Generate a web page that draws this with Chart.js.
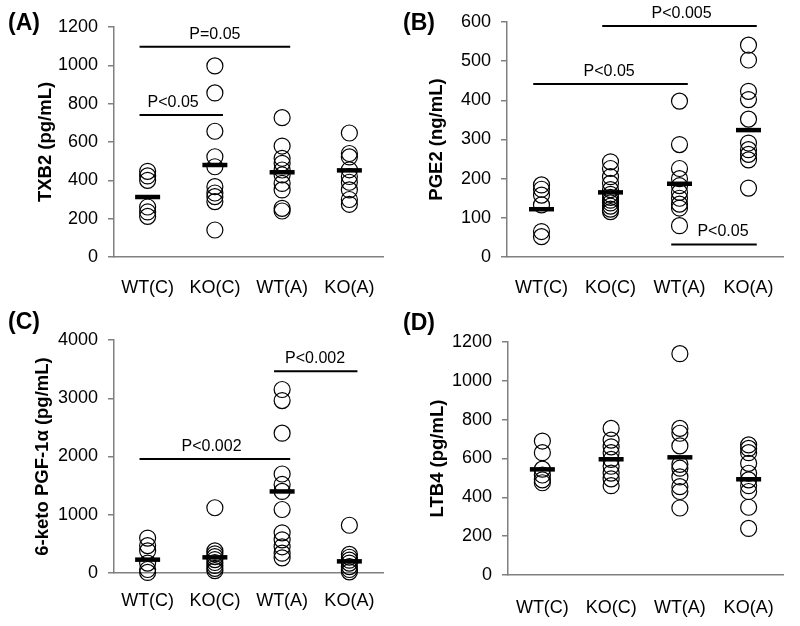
<!DOCTYPE html>
<html>
<head>
<meta charset="utf-8">
<script src="https://cdn.jsdelivr.net/npm/chart.js@4/dist/chart.umd.min.js"></script>
<style>
  html, body { margin: 0; padding: 0; background: #fff; }
  #wrap { position: relative; width: 800px; height: 626px; overflow: hidden; }
  canvas { position: absolute; }
  .lbl { position: absolute; font: bold 23px "Liberation Sans", Arial, sans-serif; line-height: 1; color: #000; }
</style>
</head>
<body>
<div id="wrap">
  <canvas id="cA" width="400" height="300" style="left:0;top:0"></canvas>
  <canvas id="cB" width="400" height="300" style="left:400px;top:0"></canvas>
  <canvas id="cC" width="400" height="326" style="left:0;top:300px"></canvas>
  <canvas id="cD" width="400" height="326" style="left:400px;top:300px"></canvas>
  <div class="lbl" style="left:8px;top:11px">(A)</div>
  <div class="lbl" style="left:403px;top:11px">(B)</div>
  <div class="lbl" style="left:8px;top:310px">(C)</div>
  <div class="lbl" style="left:403px;top:311px">(D)</div>
</div>
<script>
// ---------- data ----------
const categories = ['WT(C)', 'KO(C)', 'WT(A)', 'KO(A)'];

// Panel A: TXB2 (pg/mL)
const txb2_WTC = [447, 423, 400, 261, 235, 212];
const txb2_KOC = [997, 856, 656, 523, 471, 367, 334, 315, 289, 141];
const txb2_WTA = [727, 579, 515, 489, 454, 428, 384, 350, 254, 240];
const txb2_KOA = [647, 540, 522, 455, 420, 390, 350, 300, 275];
const txb2_mean = [313, 480, 442, 452];
const txb2_ticks = [0, 200, 400, 600, 800, 1000, 1200];

// Panel B: PGE2 (ng/mL)
const pge2_WTC = [184, 173, 158, 133, 65, 52];
const pge2_KOC = [243, 226, 205, 188, 172, 160, 152, 145, 138, 130, 122, 116];
const pge2_WTA = [398, 287, 226, 200, 182, 165, 150, 135, 125, 80];
const pge2_KOA = [541, 503, 423, 402, 352, 291, 274, 262, 248, 176];
const pge2_mean = [122, 165, 187, 324];
const pge2_ticks = [0, 100, 200, 300, 400, 500, 600];

// Panel C: 6-keto PGF-1α (pg/mL)
const pgf_WTC = [600, 470, 380, 170, 60, 10];
const pgf_KOC = [1120, 380, 330, 280, 230, 180, 130, 80, 40];
const pgf_WTA = [3150, 2960, 2400, 1700, 1520, 1400, 1090, 690, 570, 450, 340, 260];
const pgf_KOA = [820, 320, 270, 220, 170, 110, 60, 20];
const pgf_mean = [229, 269, 1400, 200];
const pgf_ticks = [0, 1000, 2000, 3000, 4000];

// Panel D: LTB4 (pg/mL)
const ltb4_WTC = [690, 630, 545, 515, 490, 475];
const ltb4_KOC = [755, 695, 660, 630, 595, 560, 525, 495, 460];
const ltb4_WTA = [1140, 755, 730, 665, 570, 550, 505, 455, 430, 345];
const ltb4_KOA = [670, 652, 630, 575, 524, 490, 460, 430, 349, 240];
const ltb4_mean = [544, 596, 606, 493];
const ltb4_ticks = [0, 200, 400, 600, 800, 1000, 1200];

// significance brackets: [fromGroup, toGroup, yValue, label, labelAt(group units)]
const sigA = [[1, 3, 1097, 'P=0.05', 2.0], [1, 2, 741, 'P<0.05', 1.38]];
const sigB = [[2, 4, 590, 'P<0.005', 3.03], [1, 3, 442, 'P<0.05', 1.98], [3, 4, 32, 'P<0.05', 3.63]];
const sigC = [[3, 4, 3465, 'P<0.002', 3.49], [1, 3, 1955, 'P<0.002', 1.95]];
const sigD = [];

// ---------- drawing ----------
const FONT = '"Liberation Sans", Arial, sans-serif';
const GREY = '#808080';

const sigTextPlugin = {
  id: 'sigText',
  afterDatasetsDraw(chart, args, opts) {
    const ctx = chart.ctx, xs = chart.scales.x, ys = chart.scales.y;
    ctx.save();
    ctx.fillStyle = '#000';
    ctx.font = '16px ' + FONT;
    ctx.textAlign = 'center';
    ctx.textBaseline = 'alphabetic';
    (opts.items || []).forEach(s => {
      ctx.fillText(s[3], xs.getPixelForValue(s[4]), ys.getPixelForValue(s[2]) - 8);
    });
    ctx.restore();
  }
};

function makePanel(id, groups, means, yTicks, sig, title, g) {
  const pts = [];
  groups.forEach((arr, i) => arr.forEach(v => pts.push({ x: i + 1, y: v })));
  const datasets = [
    {
      data: means.map((m, i) => ({ x: i + 1, y: m })),
      pointStyle: 'line', pointRadius: 12.5, pointBorderWidth: 4.5,
      pointBorderColor: '#000', borderColor: '#000', showLine: false, clip: false
    },
    {
      data: pts,
      pointStyle: 'circle', pointRadius: 8, pointBorderWidth: 1.2,
      pointBackgroundColor: 'rgba(0,0,0,0)', pointBorderColor: '#000', showLine: false, clip: false
    }
  ];
  sig.forEach(s => {
    datasets.push({
      data: [{ x: s[0] - 0.12, y: s[2] }, { x: s[1] + 0.12, y: s[2] }],
      showLine: true, borderColor: '#000', borderWidth: 2, pointRadius: 0, clip: false
    });
  });
  new Chart(document.getElementById(id), {
    type: 'scatter',
    data: { datasets },
    plugins: [sigTextPlugin],
    options: {
      responsive: false, animation: false, devicePixelRatio: 1,
      layout: { padding: { top: g.top, right: g.right, left: 0, bottom: 0 } },
      plugins: { legend: { display: false }, tooltip: { enabled: false }, sigText: { items: sig } },
      scales: {
        x: {
          type: 'linear', min: 0.5, max: 4.5,
          afterBuildTicks: s => { s.ticks = categories.map((c, i) => ({ value: i + 1 })); },
          afterFit: s => { s.height = g.xh; },
          grid: { display: false, drawTicks: false },
          border: { display: true, color: GREY, width: 1.5 },
          ticks: { padding: g.xpad, color: '#000', font: { family: FONT, size: 18 }, maxRotation: 0,
                   callback: v => categories[v - 1] }
        },
        y: {
          type: 'linear', min: yTicks[0], max: yTicks[yTicks.length - 1],
          afterBuildTicks: s => { s.ticks = yTicks.map(v => ({ value: v })); },
          afterFit: s => { s.width = g.yw; },
          grid: { display: true, drawOnChartArea: false, drawTicks: true, tickLength: 6, color: GREY, lineWidth: 1.5 },
          border: { display: true, color: GREY, width: 1.5 },
          ticks: { padding: 10, color: '#000', font: { family: FONT, size: 18 }, callback: v => String(v) },
          title: { display: true, text: title, color: '#000', padding: { top: g.tp, bottom: 0 },
                   font: { family: FONT, size: 18.5, weight: 'bold' } }
        }
      }
    }
  });
}

makePanel('cA', [txb2_WTC, txb2_KOC, txb2_WTA, txb2_KOA], txb2_mean, txb2_ticks, sigA, 'TXB2 (pg/mL)',
  { top: 27, right: 0, xh: 43, yw: 114, xpad: 20, tp: 35 });
makePanel('cB', [pge2_WTC, pge2_KOC, pge2_WTA, pge2_KOA], pge2_mean, pge2_ticks, sigB, 'PGE2 (ng/mL)',
  { top: 22, right: 2, xh: 43, yw: 107, xpad: 20, tp: 26 });
makePanel('cC', [pgf_WTC, pgf_KOC, pgf_WTA, pgf_KOA], pgf_mean, pgf_ticks, sigC, '6-keto PGF-1α (pg/mL)',
  { top: 40, right: 0, xh: 53, yw: 114, xpad: 17, tp: 32 });
makePanel('cD', [ltb4_WTC, ltb4_KOC, ltb4_WTA, ltb4_KOA], ltb4_mean, ltb4_ticks, sigD, 'LTB4 (pg/mL)',
  { top: 42, right: 9, xh: 51, yw: 108, xpad: 22, tp: 27 });
</script>
</body>
</html>
